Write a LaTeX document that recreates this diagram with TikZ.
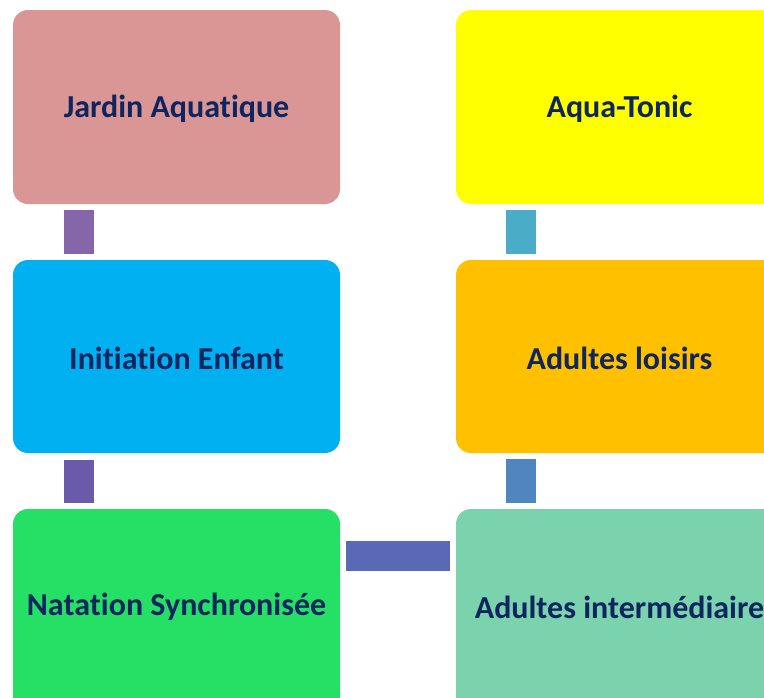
\documentclass[tikz,border=0pt]{standalone}
\usepackage{fontspec}
\setmainfont{Carlito}[RawFeature=-liga]
\begin{document}
\begin{tikzpicture}[x=1pt,y=-1pt,
  lbl/.style={font=\bfseries\fontsize{32}{38}\selectfont, text=navy, inner sep=0pt}]
\definecolor{navy}{HTML}{0E2560}
\definecolor{c1}{HTML}{DA9694}
\definecolor{c2}{HTML}{00B0F0}
\definecolor{c3}{HTML}{26E066}
\definecolor{c4}{HTML}{FFFF00}
\definecolor{c5}{HTML}{FFC000}
\definecolor{c6}{HTML}{7AD3AC}
\definecolor{k1}{HTML}{8566A8}
\definecolor{k2}{HTML}{6A5BAA}
\definecolor{k3}{HTML}{5A69B5}
\definecolor{k4}{HTML}{4AACC6}
\definecolor{k5}{HTML}{4F86C0}
\useasboundingbox (0,0) rectangle (764,697);
% boxes
\fill[c1, rounded corners=15pt] (13,10) rectangle (340,204);
\fill[c2, rounded corners=15pt] (13,260) rectangle (340,453);
\fill[c3, rounded corners=15pt] (13,509) rectangle (340,712);
\fill[c4, rounded corners=15pt] (456,10) rectangle (783,204);
\fill[c5, rounded corners=15pt] (456,260) rectangle (783,453);
\fill[c6, rounded corners=15pt] (456,509) rectangle (783,712);
\node[lbl] (a) at (176.5,109) {Jardin Aquatique};
\node[lbl] (b) at (176.5,358) {Initiation Enfant};
\node[lbl] (c) at (176.5,607) {Natation Synchronisée};
\node[lbl] (d) at (619.5,109) {Aqua-Tonic};
\node[lbl] (e) at (619.5,358) {Adultes loisirs};
\node[lbl] (f) at (619.5,607) {Adultes intermédiaire};
% connectors
\fill[k1] (64,210) rectangle (94,254);
\fill[k2] (64,460) rectangle (94,503);
\fill[k3] (346,541) rectangle (450,571);
\fill[k4] (506,210) rectangle (536,254);
\fill[k5] (506,459) rectangle (536,503);
\end{tikzpicture}
\end{document}
